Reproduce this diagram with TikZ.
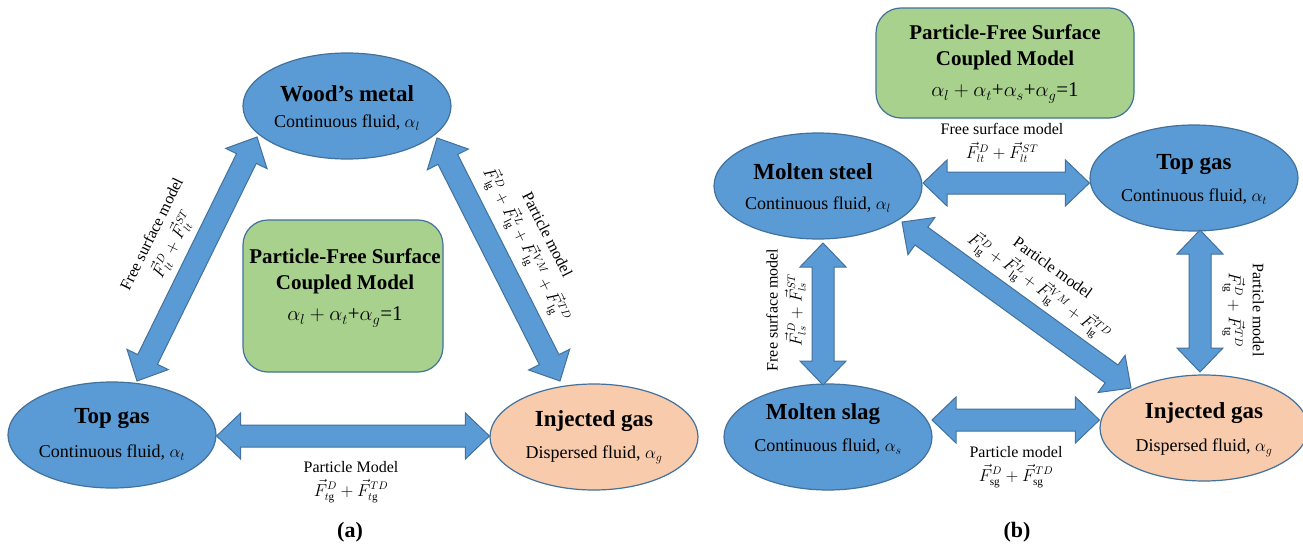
\documentclass[tikz,border=0pt]{standalone}
\usepackage{fontspec}
\setmainfont{Liberation Serif}
\usetikzlibrary{shapes.geometric,calc}
\definecolor{blueF}{HTML}{5B9BD5}
\definecolor{edgeB}{HTML}{41719C}
\definecolor{peachF}{HTML}{F8CBAD}
\definecolor{greenF}{HTML}{A9D18E}
\def\ahl{24pt}
\def\ahw{23pt}
\def\asw{11pt}
\newcommand{\fatarrow}[2]{%
  \filldraw[fatarr] (#1)
    -- ($(#1)!\ahl!(#2)!\ahw!90:(#2)$)
    -- ($(#1)!\ahl!(#2)!\asw!90:(#2)$)
    -- ($(#2)!\ahl!(#1)!\asw!-90:(#1)$)
    -- ($(#2)!\ahl!(#1)!\ahw!-90:(#1)$)
    -- (#2)
    -- ($(#2)!\ahl!(#1)!\ahw!90:(#1)$)
    -- ($(#2)!\ahl!(#1)!\asw!90:(#1)$)
    -- ($(#1)!\ahl!(#2)!\asw!-90:(#2)$)
    -- ($(#1)!\ahl!(#2)!\ahw!-90:(#2)$)
    -- cycle;}
\begin{document}
\begin{tikzpicture}[x=1pt,y=-1pt,
  ell/.style={ellipse, draw=edgeB, line width=1.2pt, minimum width=208pt, minimum height=106pt, inner sep=0pt},
  ttl/.style={font=\fontsize{23}{27}\selectfont\bfseries, inner sep=0pt},
  subtxt/.style={font=\fontsize{18}{22}\selectfont, inner sep=0pt},
  gbox/.style={rounded corners=25pt, fill=greenF, draw=edgeB, line width=1.2pt, inner sep=0pt},
  gtext/.style={align=center, font=\fontsize{21}{26}\selectfont, inner sep=0pt},
  lab/.style={align=center, font=\fontsize{16}{24}\selectfont, inner sep=0pt},
  fatarr/.style={fill=blueF, draw=edgeB, line width=1pt, line join=miter},
  captxt/.style={font=\fontsize{22}{26}\selectfont\bfseries, inner sep=0pt}]
\fill[white] (0,0) rectangle (1303,546);
\useasboundingbox (0,0) rectangle (1303,546);

% ---------------- panel (a) ----------------
\node[ell, fill=blueF] (wood) at (347,106) {};
\node[ttl] (woodT) at ($(wood)+(0,-12)$) {Wood’s metal};
\node[subtxt] (woodS) at ($(wood)+(0,17)$) {Continuous fluid, $\alpha_l$};

\node[ell, fill=blueF] (topA) at (112,435) {};
\node[ttl] (topAT) at ($(topA)+(0,-16)$) {Top gas};
\node[subtxt] (topAS) at ($(topA)+(0,18)$) {Continuous fluid, $\alpha_t$};

\node[ell, fill=peachF] (injA) at (594,437) {};
\node[ttl] (injAT) at ($(injA)+(0,-16)$) {Injected gas};
\node[subtxt] (injAS) at ($(injA)+(0,18)$) {Dispersed fluid, $\alpha_g$};

\node[gbox, minimum width=200pt, minimum height=152pt] (gA) at (343,296) {};
\node[gtext] (gAt) at ($(gA)+(2,-8)$) {\bfseries Particle-Free Surface\\ \bfseries Coupled Model\\[5pt] $\alpha_l+\alpha_t$+$\alpha_g$=1};

\coordinate (twA) at (137,381);
\coordinate (twB) at (257,137);
\coordinate (wiA) at (437,138);
\coordinate (wiB) at (560,381);
\coordinate (tiA) at ($(topA.east)+(0,1)$);
\coordinate (tiB) at ($(injA.west)+(0,-1)$);
\fatarrow{twA}{twB}
\fatarrow{wiA}{wiB}
\fatarrow{tiA}{tiB}

\node[lab, rotate=63.7] (labTW) at (164,240) {Free surface model\\ $\vec F_{lt}^{D}+\vec F_{lt}^{ST}$};
\node[lab, rotate=-63.2] (labWI) at (534,241) {Particle model\\ $\vec F_{\mathrm{lg}}^{D}+\vec F_{\mathrm{lg}}^{L}+\vec F_{\mathrm{lg}}^{VM}+\vec F_{\mathrm{lg}}^{TD}$};
\node[lab] (labTI) at (351,482) {Particle Model\\ $\vec F_{t\mathrm{g}}^{D}+\vec F_{t\mathrm{g}}^{TD}$};

\node[captxt] (capA) at (350,532) {(a)};

% ---------------- panel (b) ----------------
\node[gbox, minimum width=258pt, minimum height=110pt] (gB) at (1005,63) {};
\node[gtext] (gBt) at ($(gB)+(0,1)$) {\bfseries Particle-Free Surface\\ \bfseries Coupled Model\\[5pt] $\alpha_l+\alpha_t$+$\alpha_s$+$\alpha_g$=1};

\node[ell, fill=blueF] (steel) at (818,186) {};
\node[ttl] (steelT) at ($(steel)+(-5,-14)$) {Molten steel};
\node[subtxt] (steelS) at ($(steel)+(0,19)$) {Continuous fluid, $\alpha_l$};

\node[ell, fill=blueF] (topB) at (1194,178) {};
\node[ttl] (topBT) at ($(topB)+(0,-13)$) {Top gas};
\node[subtxt] (topBS) at ($(topB)+(0,19)$) {Continuous fluid, $\alpha_t$};

\node[ell, fill=blueF] (slag) at (828,437) {};
\node[ttl] (slagT) at ($(slag)+(-5,-23)$) {Molten slag};
\node[subtxt] (slagS) at ($(slag)+(0,10)$) {Continuous fluid, $\alpha_s$};

\node[ell, fill=peachF] (injB) at (1204,428) {};
\node[ttl] (injBT) at ($(injB)+(0,-15)$) {Injected gas};
\node[subtxt] (injBS) at ($(injB)+(0,20)$) {Dispersed fluid, $\alpha_g$};

\coordinate (stA) at (923,183);
\coordinate (stB) at (topB.west |- stA);
\coordinate (ssA) at (823,243);
\coordinate (ssB) at (823,385);
\coordinate (tibA) at (1200,230);
\coordinate (tibB) at (1200,372);
\coordinate (siA) at (902,222);
\coordinate (siB) at (1131,388);
\coordinate (sliA) at (932,420);
\coordinate (sliB) at (injB.west |- sliA);
\fatarrow{stA}{stB}
\fatarrow{ssA}{ssB}
\fatarrow{tibA}{tibB}
\fatarrow{siA}{siB}
\fatarrow{sliA}{sliB}

\node[lab] (labST) at (1002,143) {Free surface model\\ $\vec F_{lt}^{D}+\vec F_{lt}^{ST}$};
\node[lab, rotate=90] (labSS) at (786,310) {Free surface model\\ $\vec F_{ls}^{D}+\vec F_{ls}^{ST}$};
\node[lab, rotate=-90] (labTIB) at (1243,310) {Particle model\\ $\vec F_{\mathrm{tg}}^{D}+\vec F_{\mathrm{tg}}^{TD}$};
\node[lab, rotate=-35.9] (labSI) at (1044,280) {Particle model\\ $\vec F_{\mathrm{lg}}^{D}+\vec F_{\mathrm{lg}}^{L}+\vec F_{\mathrm{lg}}^{VM}+\vec F_{\mathrm{lg}}^{TD}$};
\node[lab] (labSLI) at (1016,467) {Particle model\\ $\vec F_{\mathrm{sg}}^{D}+\vec F_{\mathrm{sg}}^{TD}$};

\node[captxt] (capB) at (1017,532) {(b)};
\end{tikzpicture}
\end{document}
